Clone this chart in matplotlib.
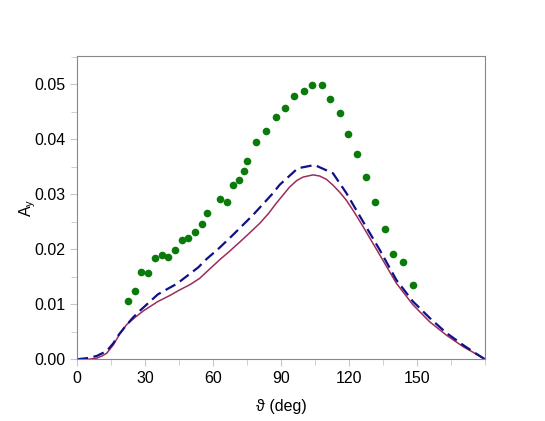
import numpy as np
import matplotlib.pyplot as plt
from matplotlib.ticker import MultipleLocator

plt.rcParams['font.family'] = ['Liberation Sans', 'DejaVu Sans']

# measured points (green)
x_data = [22.5, 25.6, 28.2, 31.5, 34.6, 37.4, 40.3, 43.1, 46.2, 48.8, 51.9, 55.2,
          57.2, 63.1, 66.3, 68.8, 71.6, 73.7, 75.2, 78.8, 83.5, 87.8, 91.6, 95.7,
          100.0, 103.7, 108.0, 111.6, 115.9, 119.6, 123.7, 127.5, 131.6, 135.9,
          139.6, 143.8, 148.0]
y_data = [0.0105, 0.0124, 0.0158, 0.0156, 0.0184, 0.0190, 0.0186, 0.0198, 0.0216,
          0.0221, 0.0231, 0.0245, 0.0265, 0.0291, 0.0285, 0.0317, 0.0326, 0.0342,
          0.0361, 0.0395, 0.0415, 0.0441, 0.0457, 0.0478, 0.0488, 0.0499, 0.0499,
          0.0472, 0.0448, 0.0410, 0.0373, 0.0332, 0.0285, 0.0236, 0.0191, 0.0176,
          0.0135]

# solid curve
x_solid = [0, 5, 8.7, 11, 13.1, 16, 19, 21.9, 25.6, 29.3, 35.7, 41, 45.3, 50, 54.1,
           58, 63, 67.5, 71.8, 76, 80.6, 84.5, 88, 91, 93.8, 97, 99.7, 104.1, 107,
           110, 113, 116, 118.8, 122.5, 126.2, 133.5, 140.9, 148.2, 155.6, 162.9,
           170.3, 175, 180]
y_solid = [0.0, 0.0, 0.0002, 0.0006, 0.0011, 0.0026, 0.0047, 0.0063, 0.0076, 0.0088,
           0.0105, 0.0116, 0.0126, 0.0136, 0.0147, 0.0162, 0.0181, 0.0197, 0.0213,
           0.0229, 0.0247, 0.0265, 0.0284, 0.0299, 0.0313, 0.0325, 0.0331, 0.0335,
           0.0333, 0.0327, 0.0316, 0.0303, 0.0289, 0.0266, 0.0241, 0.0190, 0.0138,
           0.0099, 0.0068, 0.0044, 0.0023, 0.0012, 0.0]

# dashed curve
x_dash = [0, 4.3, 8.7, 13.1, 16, 18.5, 21, 24.5, 27.7, 32.2, 35.7, 40, 44, 49.7,
          53.5, 57.1, 62.2, 68.8, 77.6, 86.5, 89.4, 97.4, 104.8, 112.9, 118.8, 126.2,
          133.5, 140.9, 148.2, 155.6, 162.9, 170.3, 175, 180]
y_dash = [0.0, 0.0002, 0.0006, 0.0015, 0.0029, 0.0045, 0.0058, 0.0075, 0.0088,
          0.0105, 0.0118, 0.0128, 0.0137, 0.0155, 0.0167, 0.0182, 0.0200, 0.0226,
          0.0262, 0.0302, 0.0317, 0.0347, 0.0353, 0.0338, 0.0302, 0.0250, 0.0199,
          0.0144, 0.0105, 0.0075, 0.0048, 0.0026, 0.0013, 0.0]

fig = plt.figure(figsize=(5.45, 4.21), dpi=100)
ax = fig.add_axes([0.1413, 0.1466, 0.7487, 0.7204])

ax.plot(x_solid, y_solid, color='#9b2d5e', lw=1.1)
ax.plot(x_dash, y_dash, color='#10108a', lw=1.6, dashes=(5, 2.5))
ax.plot(x_data, y_data, 'o', color='#0a7a0a', ms=5.5, mec='none')

ax.set_xlim(0, 180)
ax.set_ylim(0, 0.0551)
ax.xaxis.set_minor_locator(MultipleLocator(15))
ax.yaxis.set_minor_locator(MultipleLocator(0.005))
ax.set_xticks([0, 30, 60, 90, 120, 150])
ax.set_yticks([0, 0.01, 0.02, 0.03, 0.04, 0.05])
ax.set_yticklabels(['0.00', '0.01', '0.02', '0.03', '0.04', '0.05'])
ax.tick_params(which='both', direction='out', color='#c8c8c8', labelsize=11.5)
ax.tick_params(which='major', length=5)
ax.tick_params(which='minor', length=4)
for s in ax.spines.values():
    s.set_color('#888888')

ax.set_xlabel('\u03d1 (deg)', fontsize=11.5, labelpad=9)
ax.set_ylabel(r'A$_\mathregular{y}$', fontsize=11.5, labelpad=-3)

fig.savefig('out.png', dpi=100)
